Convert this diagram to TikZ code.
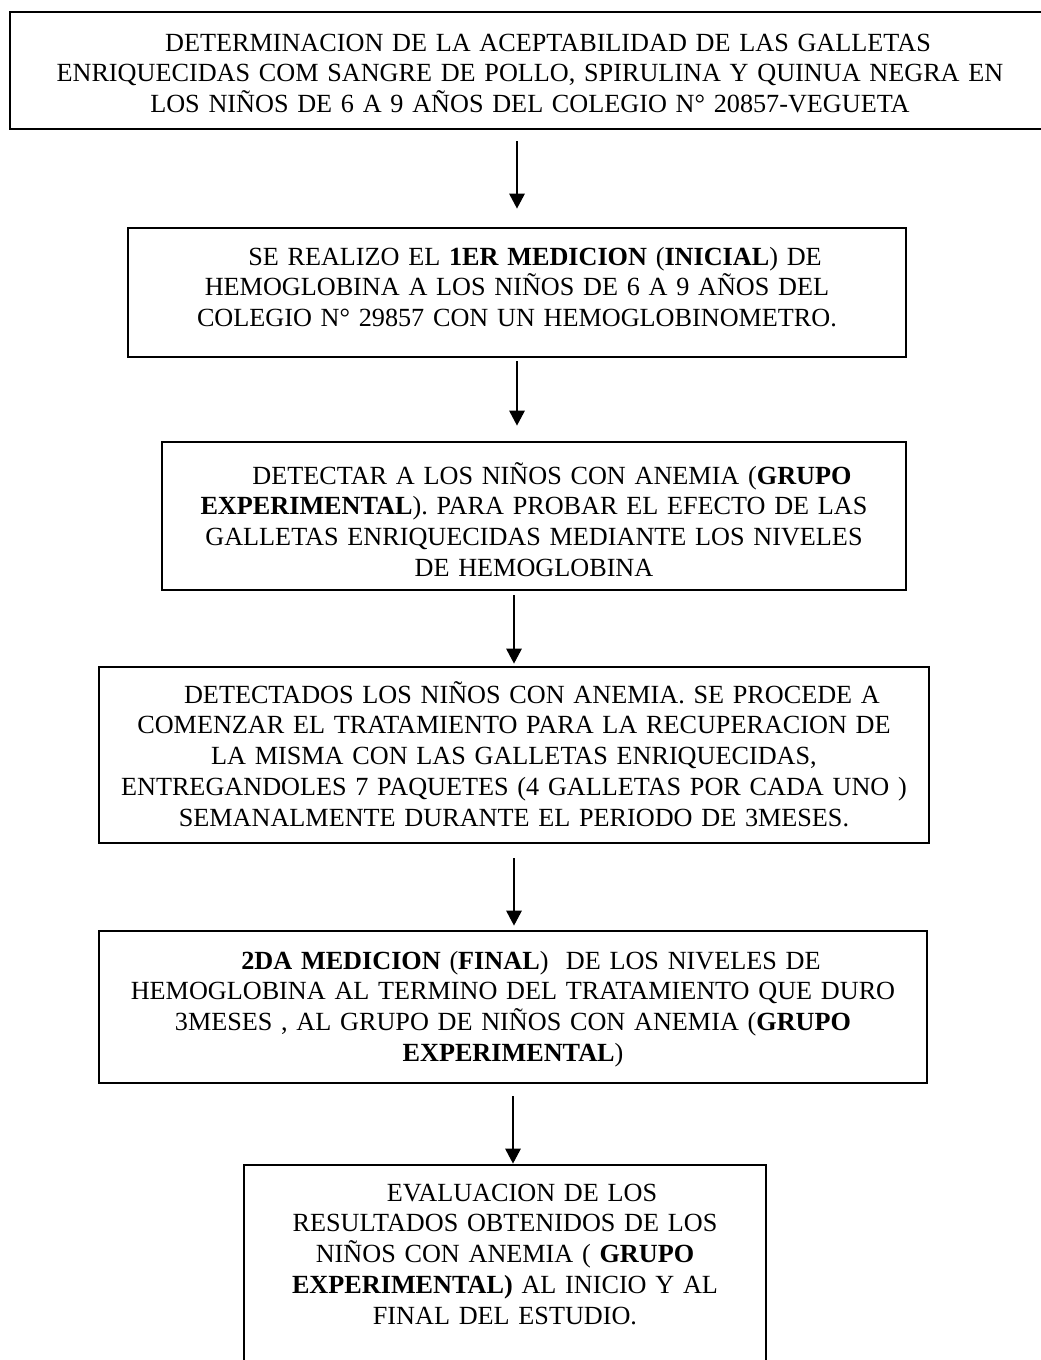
\documentclass[tikz,border=0pt]{standalone}
\usepackage{fontspec}
\setmainfont{Liberation Serif}
\usetikzlibrary{arrows.meta}

\tikzset{
  flowbox/.style={draw, line width=1.3pt, inner sep=0pt},
  boxtext/.style={anchor=base, align=center, inner sep=0pt,
    font=\fontsize{13.1}{15.4}\selectfont},
  flowarrow/.style={-{Triangle[length=7.5pt,width=7.5pt]}, line width=1.4pt}
}

\begin{document}
\begin{tikzpicture}[x=0.5pt,y=-0.5pt]
    \useasboundingbox (0,0) rectangle (1040,1360);

    % Boxes
    \node[flowbox, minimum width=520pt, minimum height=58.5pt] (titulo) at (530,70.5) {};
    \node[flowbox, minimum width=389pt, minimum height=64.5pt] (medicion1) at (517,292.5) {};
    \node[flowbox, minimum width=372pt, minimum height=74pt] (deteccion) at (534,516) {};
    \node[flowbox, minimum width=415pt, minimum height=88pt] (tratamiento) at (514,755) {};
    \node[flowbox, minimum width=414pt, minimum height=76pt] (medicion2) at (513,1007) {};
    \node[flowbox, minimum width=261pt, minimum height=117.5pt] (evaluacion) at (505,1282.5) {};

    % Texts inside the boxes
    \node[boxtext, text width=510pt] (titulo-txt) at (530,51)
      {\hspace*{18pt}DETERMINACION DE LA ACEPTABILIDAD DE LAS GALLETAS\\
       ENRIQUECIDAS COM SANGRE DE POLLO, SPIRULINA Y QUINUA NEGRA EN\\
       LOS NIÑOS DE 6 A 9 AÑOS DEL COLEGIO N° 20857-VEGUETA};
    \node[boxtext, text width=385pt] (medicion1-txt) at (517,265)
      {\hspace*{18pt}SE REALIZO EL \textbf{1ER MEDICION} (\textbf{INICIAL}) DE\\
       HEMOGLOBINA A LOS NIÑOS DE 6 A 9 AÑOS DEL\\
       COLEGIO N° 29857 CON UN HEMOGLOBINOMETRO.};
    \node[boxtext, text width=368pt] (deteccion-txt) at (534,484)
      {\hspace*{18pt}DETECTAR A LOS NIÑOS CON ANEMIA (\textbf{GRUPO}\\
       \textbf{EXPERIMENTAL}). PARA PROBAR EL EFECTO DE LAS\\
       GALLETAS ENRIQUECIDAS MEDIANTE LOS NIVELES\\
       DE HEMOGLOBINA};
    \node[boxtext, text width=411pt] (tratamiento-txt) at (514,703)
      {\hspace*{18pt}DETECTADOS LOS NIÑOS CON ANEMIA. SE PROCEDE A\\
       COMENZAR EL TRATAMIENTO PARA LA RECUPERACION DE\\
       LA MISMA CON LAS GALLETAS ENRIQUECIDAS,\\
       ENTREGANDOLES 7 PAQUETES (4 GALLETAS POR CADA UNO )\\
       SEMANALMENTE DURANTE EL PERIODO DE 3MESES.};
    \node[boxtext, text width=410pt] (medicion2-txt) at (513,969)
      {\hspace*{18pt}\textbf{2DA MEDICION} (\textbf{FINAL})\ \ DE LOS NIVELES DE\\
       HEMOGLOBINA AL TERMINO DEL TRATAMIENTO QUE DURO\\
       3MESES , AL GRUPO DE NIÑOS CON ANEMIA (\textbf{GRUPO}\\
       \textbf{EXPERIMENTAL})};
    \node[boxtext, text width=257pt] (evaluacion-txt) at (505,1201)
      {\hspace*{17pt}EVALUACION DE LOS\\
       RESULTADOS OBTENIDOS DE LOS\\
       NIÑOS CON ANEMIA ( \textbf{GRUPO}\\
       \textbf{EXPERIMENTAL)} AL INICIO Y AL\\
       FINAL DEL ESTUDIO.};

    % Arrows between the boxes
    \draw[flowarrow, shorten <=5.5pt, shorten >=9pt] (titulo.south -| medicion1.north) -- (medicion1.north);
    \draw[flowarrow, shorten <=1.5pt, shorten >=7.5pt] (medicion1.south) -- (deteccion.north -| medicion1.south);
    \draw[flowarrow, shorten <=2pt, shorten >=1pt] (deteccion.south -| tratamiento.north) -- (tratamiento.north);
    \draw[flowarrow, shorten <=7pt, shorten >=2pt] (tratamiento.south) -- (medicion2.north -| tratamiento.south);
    \draw[flowarrow, shorten <=6pt] (medicion2.south) -- (evaluacion.north -| medicion2.south);
\end{tikzpicture}
\end{document}
